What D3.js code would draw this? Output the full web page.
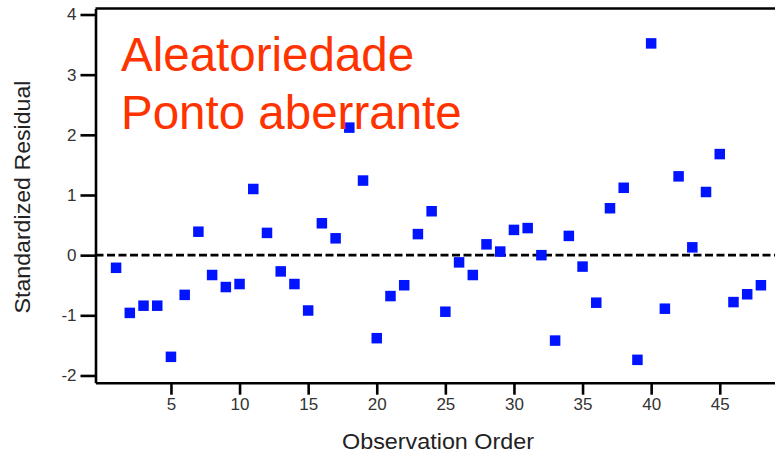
<!DOCTYPE html>
<html>
<head>
<meta charset="utf-8">
<script src="https://cdn.jsdelivr.net/npm/d3@7"></script>
<style>
  html, body { margin: 0; padding: 0; background: #fff; }
  svg { display: block; }
</style>
</head>
<body>
<svg id="chart" width="775" height="458"></svg>
<script>
// Standardized residuals in observation order
const observations = d3.range(1, 49);
const residuals = [
  -0.21, -0.96, -0.84, -0.84, -1.69, -0.66, 0.39, -0.33, -0.53, -0.48,
  1.10, 0.37, -0.27, -0.48, -0.92, 0.53, 0.28, 2.12, 1.24, -1.38,
  -0.68, -0.50, 0.35, 0.73, -0.94, -0.12, -0.33, 0.18, 0.06, 0.42,
  0.45, 0.00, -1.42, 0.32, -0.19, -0.79, 0.78, 1.12, -1.74, 3.52,
  -0.89, 1.31, 0.13, 1.05, 1.68, -0.78, -0.65, -0.50
];
const xTicks = [5, 10, 15, 20, 25, 30, 35, 40, 45];
const yTicks = [-2, -1, 0, 1, 2, 3, 4];
const titleLines = ["Aleatoriedade", "Ponto aberrante"];
const xTitle = "Observation Order";
const yTitle = "Standardized Residual";

const svg = d3.select("#chart");
const plot = { left: 95.5, right: 776, top: 8.5, bottom: 382.7 };

const x = d3.scaleLinear().domain([-0.5, 49.1]).range([plot.left, plot.right]);
const y = d3.scaleLinear().domain([-2.12, 4.1]).range([plot.bottom, plot.top]);

const axisFont = "'Liberation Sans', Arial, sans-serif";

// frame: top edge
svg.append("line")
  .attr("x1", plot.left).attr("x2", plot.right)
  .attr("y1", plot.top).attr("y2", plot.top)
  .attr("stroke", "#000").attr("stroke-width", 2.6);

// left axis (plain hyphen for negatives)
const gy = svg.append("g")
  .attr("transform", `translate(${plot.left},0)`)
  .call(d3.axisLeft(y).tickValues(yTicks).tickSize(15).tickSizeOuter(0).tickPadding(4)
        .tickFormat(d => String(d)));
gy.select(".domain").attr("stroke-width", 2.6);
gy.selectAll(".tick line").attr("stroke-width", 2.6);
gy.selectAll(".tick text")
  .attr("font-family", axisFont).attr("font-size", 17)
  .attr("fill", "#333");

// bottom axis
const gx = svg.append("g")
  .attr("transform", `translate(0,${plot.bottom})`)
  .call(d3.axisBottom(x).tickValues(xTicks).tickSize(12).tickSizeOuter(0).tickPadding(3));
gx.select(".domain").attr("stroke-width", 2.6);
gx.selectAll(".tick line").attr("stroke-width", 2.6);
gx.selectAll(".tick text")
  .attr("font-family", axisFont).attr("font-size", 17)
  .attr("fill", "#333");

// reference line at zero
svg.append("line")
  .attr("x1", plot.left).attr("x2", plot.right)
  .attr("y1", y(0)).attr("y2", y(0))
  .attr("stroke", "#000").attr("stroke-width", 2.6)
  .attr("stroke-dasharray", "8,3.5");

// residual markers
const ms = 10.5;
svg.append("g").selectAll("rect")
  .data(observations)
  .join("rect")
  .attr("x", d => x(d) - ms / 2)
  .attr("y", (d, i) => y(residuals[i]) - ms / 2)
  .attr("width", ms).attr("height", ms)
  .attr("fill", "#0014ff");

// axis titles
svg.append("text")
  .attr("x", 438).attr("y", 449)
  .attr("text-anchor", "middle")
  .attr("font-family", axisFont).attr("font-size", 22)
  .attr("textLength", 192).attr("lengthAdjust", "spacingAndGlyphs")
  .attr("fill", "#222")
  .text(xTitle);

svg.append("text")
  .attr("transform", "translate(30,197) rotate(-90)")
  .attr("text-anchor", "middle")
  .attr("font-family", axisFont).attr("font-size", 22)
  .attr("textLength", 233).attr("lengthAdjust", "spacingAndGlyphs")
  .attr("fill", "#222")
  .text(yTitle);

// annotation
svg.append("g").selectAll("text")
  .data(titleLines)
  .join("text")
  .attr("x", 121)
  .attr("y", (d, i) => 71 + i * 57.5)
  .attr("font-family", axisFont).attr("font-size", 47.5)
  .attr("fill", "#ff3300")
  .text(d => d);
</script>
</body>
</html>
